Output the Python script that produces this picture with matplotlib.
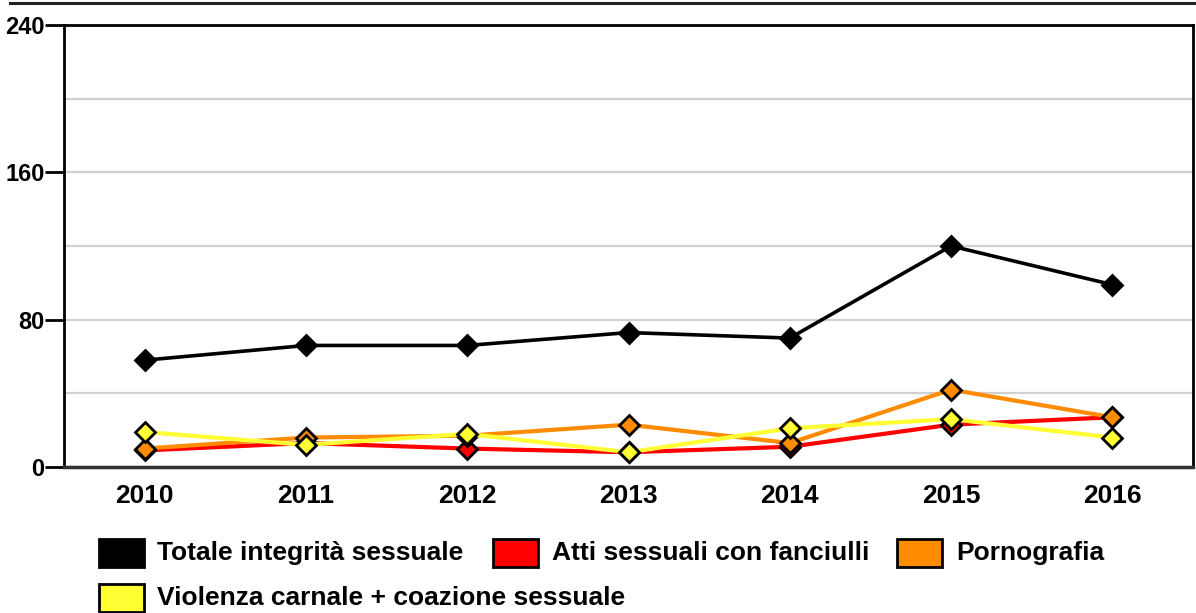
#!/usr/bin/env python3

import matplotlib
matplotlib.use("Agg")
import matplotlib.pyplot as plt
from matplotlib.patches import Rectangle
from matplotlib.lines import Line2D

plt.rcParams["font.family"] = ["Liberation Sans", "DejaVu Sans"]
plt.rcParams["font.weight"] = "bold"

years = ["2010", "2011", "2012", "2013", "2014", "2015", "2016"]

totale = [58, 66, 66, 73, 70, 120, 99]
atti = [9, 13, 10, 8, 11, 23, 27]
pornografia = [10, 16, 17, 23, 13, 42, 27]
violenza = [19, 12, 18, 8, 21, 26, 16]

labels = [
    "Totale integrità sessuale",
    "Atti sessuali con fanciulli",
    "Pornografia",
    "Violenza carnale + coazione sessuale",
]
colors = ["#000000", "#ff0000", "#ff8c00", "#ffff33"]
series = [totale, atti, pornografia, violenza]

W, H = 1196, 613
fig = plt.figure(figsize=(W / 100, H / 100), dpi=100)
ax = fig.add_axes([64 / W, 1 - 467 / H, (1193 - 64) / W, (467 - 25) / H])

x = list(range(len(years)))
for values, color, label in zip(series, colors, labels):
    ax.plot(
        x,
        values,
        color=color,
        linewidth=3 if color != "#000000" else 2.6,
        marker="D",
        markersize=10,
        markerfacecolor=color,
        markeredgecolor="black",
        markeredgewidth=2,
        label=label,
        zorder=3,
    )

ax.set_xlim(-0.5, len(years) - 0.5)
ax.set_ylim(0, 240)
ax.set_yticks([0, 80, 160, 240])
ax.set_yticks(range(0, 241, 40), minor=True)
ax.yaxis.grid(True, which="both", color="#d0d0d0", linewidth=1.6, zorder=0)
ax.set_axisbelow(True)
ax.set_xticks(x)
ax.set_xticklabels(years)
ax.tick_params(axis="x", length=0, pad=12, labelsize=19)
ax.tick_params(axis="y", which="major", length=14, width=2, pad=0, labelsize=17)
ax.tick_params(axis="y", which="minor", length=0)
for side in ["left", "right", "top", "bottom"]:
    ax.spines[side].set_linewidth(2)
    ax.spines[side].set_color("black")
ax.spines["bottom"].set_color("#333333")
ax.spines["bottom"].set_linewidth(2.5)

# rule across the top of the page
fig.add_artist(Line2D([10 / W, 1], [1 - 3 / H, 1 - 3 / H], color="#222222", linewidth=2.2))

# legend drawn by hand: patch x, row y, text x
entries = [(99, 553, 157), (493, 553, 552), (897, 553, 956), (99, 598, 157)]
for (px, py, tx), color, label in zip(entries, colors, labels):
    fig.add_artist(
        Rectangle(
            (px / W, 1 - (py + 14) / H),
            45 / W,
            28 / H,
            facecolor=color,
            edgecolor="black",
            linewidth=2,
            transform=fig.transFigure,
        )
    )
    fig.text(tx / W, 1 - py / H, label, fontsize=19, fontweight="bold", va="center", ha="left")

fig.savefig("out.png", dpi=100)
